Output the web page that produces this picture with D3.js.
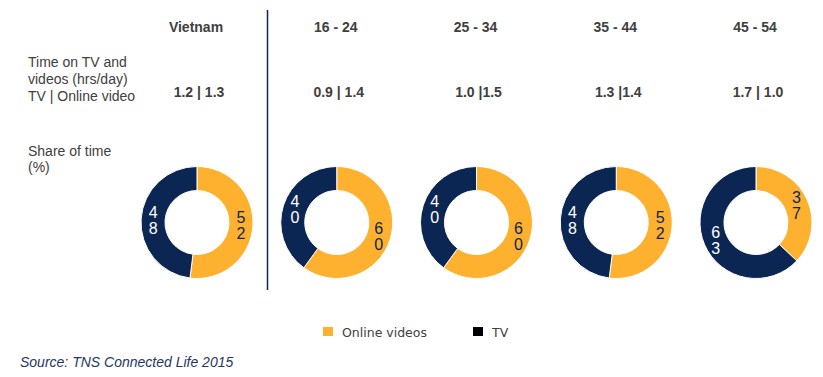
<!DOCTYPE html>
<html>
<head>
<meta charset="utf-8">
<script src="https://cdn.jsdelivr.net/npm/d3@7"></script>
<style>
  body { margin: 0; background: #fff; }
  text { font-family: "Liberation Sans", Arial, sans-serif; }
</style>
</head>
<body>
<div id="container"></div>
<script>
/* CONSTANTS AND GLOBALS */
const width = 823;
const height = 377;

// data
const groups = ["Vietnam", "16 - 24", "25 - 34", "35 - 44", "45 - 54"];
const timeLabels = ["1.2 | 1.3", "0.9 | 1.4", "1.0 |1.5", "1.3 |1.4", "1.7 | 1.0"];
const onlineShare = [52, 60, 60, 52, 37];
const tvShare = [48, 40, 40, 48, 63];
const seriesNames = ["Online videos", "TV"];

const yellow = "#fdb12e";
const navy = "#0c2654";
const textGrey = "#404040";

const svg = d3.select("#container")
  .append("svg")
    .attr("width", width)
    .attr("height", height);

const xScale = d3.scalePoint()
  .domain(groups)
  .range([195, 754]);

const colorScale = d3.scaleOrdinal()
  .domain(seriesNames)
  .range([yellow, navy]);

// column headers
svg.selectAll("text.header")
  .data(groups)
  .join("text")
    .attr("class", "header")
    .attr("x", d => xScale(d) + 1)
    .attr("y", 32)
    .attr("text-anchor", "middle")
    .attr("font-size", 14)
    .attr("font-weight", "bold")
    .attr("fill", textGrey)
    .text(d => d);

// hours row
svg.selectAll("text.hours")
  .data(groups)
  .join("text")
    .attr("class", "hours")
    .attr("x", d => xScale(d) + 4)
    .attr("y", 97)
    .attr("text-anchor", "middle")
    .attr("font-size", 14)
    .attr("font-weight", "bold")
    .attr("fill", textGrey)
    .text((d, i) => timeLabels[i]);

// row labels
const rowLabel1 = svg.append("text")
  .attr("x", 28)
  .attr("y", 67)
  .attr("font-size", 14)
  .attr("fill", textGrey);
["Time on TV and", "videos (hrs/day)", "TV | Online video"].forEach((t, i) => {
  rowLabel1.append("tspan").attr("x", 28).attr("dy", i === 0 ? 0 : 17).text(t);
});

const rowLabel2 = svg.append("text")
  .attr("x", 28)
  .attr("y", 156)
  .attr("font-size", 14)
  .attr("fill", textGrey);
["Share of time", "(%)"].forEach((t, i) => {
  rowLabel2.append("tspan").attr("x", 28).attr("dy", i === 0 ? 0 : 16).text(t);
});

// divider after Vietnam
svg.append("line")
  .attr("x1", 267.5).attr("x2", 267.5)
  .attr("y1", 10).attr("y2", 290)
  .attr("stroke", navy)
  .attr("stroke-width", 1.5);

// donuts
const pie = d3.pie().sort(null).value(d => d.value);
const arc = d3.arc().innerRadius(32).outerRadius(56);

groups.forEach((g, i) => {
  const slices = pie([
    { key: "Online videos", value: onlineShare[i] },
    { key: "TV", value: tvShare[i] }
  ]);

  const donut = svg.append("g")
    .attr("transform", `translate(${xScale(g) + 2}, 222.5)`);

  donut.selectAll("path")
    .data(slices)
    .join("path")
      .attr("d", arc)
      .attr("fill", d => colorScale(d.data.key))
      .attr("stroke", "#fff")
      .attr("stroke-width", 1);

  const labels = donut.selectAll("text")
    .data(slices)
    .join("text")
      .attr("transform", d => `translate(${arc.centroid(d)})`)
      .attr("text-anchor", "middle")
      .attr("font-size", 16)
      .attr("fill", d => d.data.key === "TV" ? "#fff" : navy);

  labels.each(function(d) {
    const digits = String(d.data.value).split("");
    d3.select(this).selectAll("tspan")
      .data(digits)
      .join("tspan")
        .attr("x", 0)
        .attr("y", (c, j) => (j - (digits.length - 1) / 2) * 16 + 6)
        .text(c => c);
  });
});

// legend
const legendX = [323, 473];
const legend = svg.selectAll("g.legend")
  .data(seriesNames)
  .join("g")
    .attr("class", "legend")
    .attr("transform", (d, i) => `translate(${legendX[i]}, 327)`);

legend.append("rect")
  .attr("width", 10)
  .attr("height", 9)
  .attr("fill", d => d === "TV" ? "#000" : colorScale(d));

legend.append("text")
  .attr("x", 19)
  .attr("y", 10)
  .attr("font-size", 12.5)
  .style("font-family", "'DejaVu Sans', Verdana, sans-serif")
  .attr("fill", textGrey)
  .text(d => d);

// source
svg.append("text")
  .attr("x", 20)
  .attr("y", 367)
  .attr("font-size", 14)
  .attr("font-style", "italic")
  .attr("fill", "#1f3864")
  .text("Source: TNS Connected Life 2015");
</script>
</body>
</html>
